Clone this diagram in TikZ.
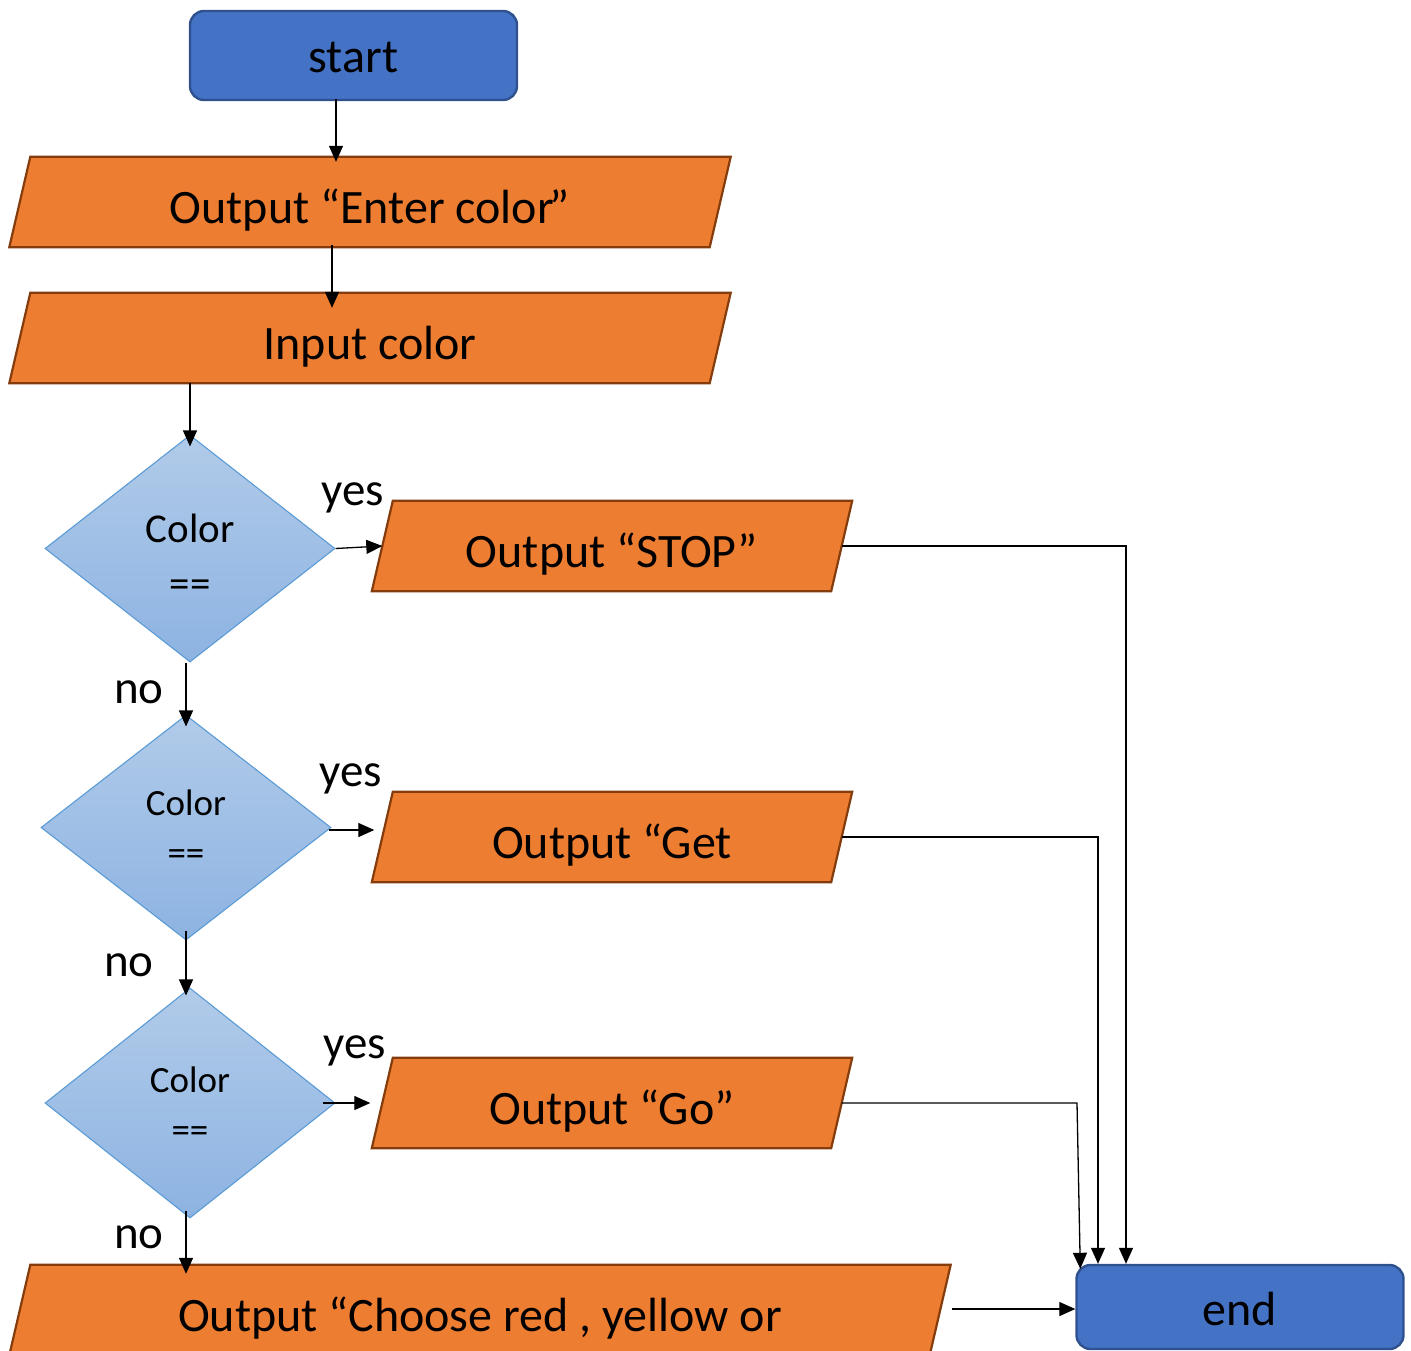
\documentclass[tikz,border=0pt]{standalone}
\usepackage{fontspec}
\setmainfont{Carlito}
\usetikzlibrary{arrows.meta,shapes.geometric,backgrounds}
\definecolor{boxblue}{HTML}{4472C4}
\definecolor{boxblueedge}{HTML}{2F528F}
\definecolor{ioorange}{HTML}{ED7D31}
\definecolor{iooedge}{HTML}{843C0C}
\definecolor{dectop}{HTML}{B1CBE9}
\definecolor{decbot}{HTML}{8DB3E2}
\definecolor{decedge}{HTML}{5B9BD5}
% parallelogram outline behind an I/O node: #1 node name, #2 half slant
\newcommand\ioshape[2]{%
  \filldraw[fill=ioorange, draw=iooedge, line width=2.2pt, line join=miter]
    ([xshift=#2]#1.north west) -- ([xshift=#2]#1.north east) --
    ([xshift=-#2]#1.south east) -- ([xshift=-#2]#1.south west) -- cycle;}
\begin{document}
\begin{tikzpicture}[x=1pt,y=-1pt,
  terminal/.style={rectangle, rounded corners=14pt, draw=boxblueedge, line width=2.4pt,
    fill=boxblue, minimum width=327pt, inner sep=0pt, text depth=0pt,
    font=\fontsize{48}{57}\selectfont},
  iobox/.style={rectangle, inner sep=0pt, minimum height=90pt, text height=43pt, text depth=0pt,
    font=\fontsize{48}{57}\selectfont},
  decision/.style={diamond, draw=decedge, line width=1.1pt, top color=dectop, bottom color=decbot,
    minimum width=290pt, inner sep=0pt, aspect=1.28},
  dectext/.style={align=center, inner sep=0pt},
  tag/.style={inner sep=0pt, font=\fontsize{47}{56}\selectfont},
  arr/.style={-{Triangle[length=16pt,width=14pt]}, line width=1.3pt},
]
\useasboundingbox (0,0) rectangle (1411,1350);
\clip (0,0) rectangle (1411,1350);

% terminals
\node[terminal, minimum height=89pt, text height=33pt] (start) at (353.5,55.5) {start};
\node[terminal, minimum height=84pt, text height=36pt] (end) at (1240,1307) {end};

% input / output steps
\node[iobox, minimum width=700pt] (out1) at (370,202) {Output “Enter color\kern-4pt”};
\node[iobox, minimum width=700pt] (in1) at (370,338) {Input color};
\node[iobox, minimum width=459pt] (stop) at (612,546) {Output “STOP”};
\node[iobox, minimum width=459pt] (get) at (612,837) {Output “Get};
\node[iobox, minimum width=459pt] (go) at (612,1103) {Output “Go”};
\node[iobox, minimum width=920pt] (choose) at (480,1310) {Output “Choose red , yellow or};

% decisions
\node[decision, minimum height=227pt] (d1) at (190,548.5) {};
\node[decision, minimum height=225pt] (d2) at (186,827.5) {};
\node[decision, minimum height=230pt] (d3) at (190,1103) {};
\node[dectext, font=\fontsize{41}{55}\selectfont] (d1t) at (190,556) {Color\\==};
\node[dectext, font=\fontsize{37}{50}\selectfont] (d2t) at (186,828) {Color\\==};
\node[dectext, font=\fontsize{37}{50}\selectfont] (d3t) at (190,1105) {Color\\==};

% branch labels
\node[tag] (yes1) at (353,498) {yes};
\node[tag] (no1) at (139,692.5) {no};
\node[tag] (yes2) at (351,779) {yes};
\node[tag] (no2) at (129,965) {no};
\node[tag] (yes3) at (355,1051) {yes};
\node[tag] (no3) at (139,1237) {no};

\begin{scope}[on background layer]
  \clip (0,0) rectangle (1411,1350);
  \ioshape{out1}{10.5}
  \ioshape{in1}{10.5}
  \ioshape{stop}{10.5}
  \ioshape{get}{10.5}
  \ioshape{go}{10.5}
  \ioshape{choose}{10.5}
\end{scope}

% helper points for connectors
\coordinate (d2top) at ([yshift=-12]d2.north);
\coordinate (d3top) at ([yshift=-8]d3.north);
\coordinate (d3foot) at ([xshift=-4,yshift=8]d3.south);
\coordinate (choosetop) at ([yshift=-9]choose.north);
\coordinate (gobend) at (1077,1103);
\coordinate (chooseout) at (952,1309);

% main flow
\draw[arr] ([xshift=-17.5,yshift=2]start.south) -- ([xshift=-34,yshift=-5]out1.north);
\draw[arr] ([xshift=-38,yshift=2]out1.south) -- ([xshift=-38,yshift=-15]in1.north);
\draw[arr] (in1.south -| d1.north) -- ([yshift=-12]d1.north);

% no branches
\draw[arr] (d1.south -| d2top) -- (d2top);
\draw[arr] ([yshift=10]d2.south) -- (d2.south |- d3top);
\draw[arr] (d3foot) -- (d3foot |- choosetop);

% yes branches
\draw[arr] (d1.east) -- (stop.west);
\draw[arr] ([xshift=-3,yshift=-2.5]d2.east) -- ([xshift=-8,yshift=7]get.west);
\draw[arr] ([xshift=-13]d3.east) -- ([xshift=-12]go.west);

% into end
\draw[arr] (stop.east) -| ([xshift=-114]end.north);
\draw[arr] (get.east) -| ([xshift=-142]end.north);
\draw[arr] (go.east) -- (gobend) -- ([xshift=5,yshift=-5]end.north west);
\draw[arr] (chooseout) -- (chooseout -| end.west);
\end{tikzpicture}
\end{document}
